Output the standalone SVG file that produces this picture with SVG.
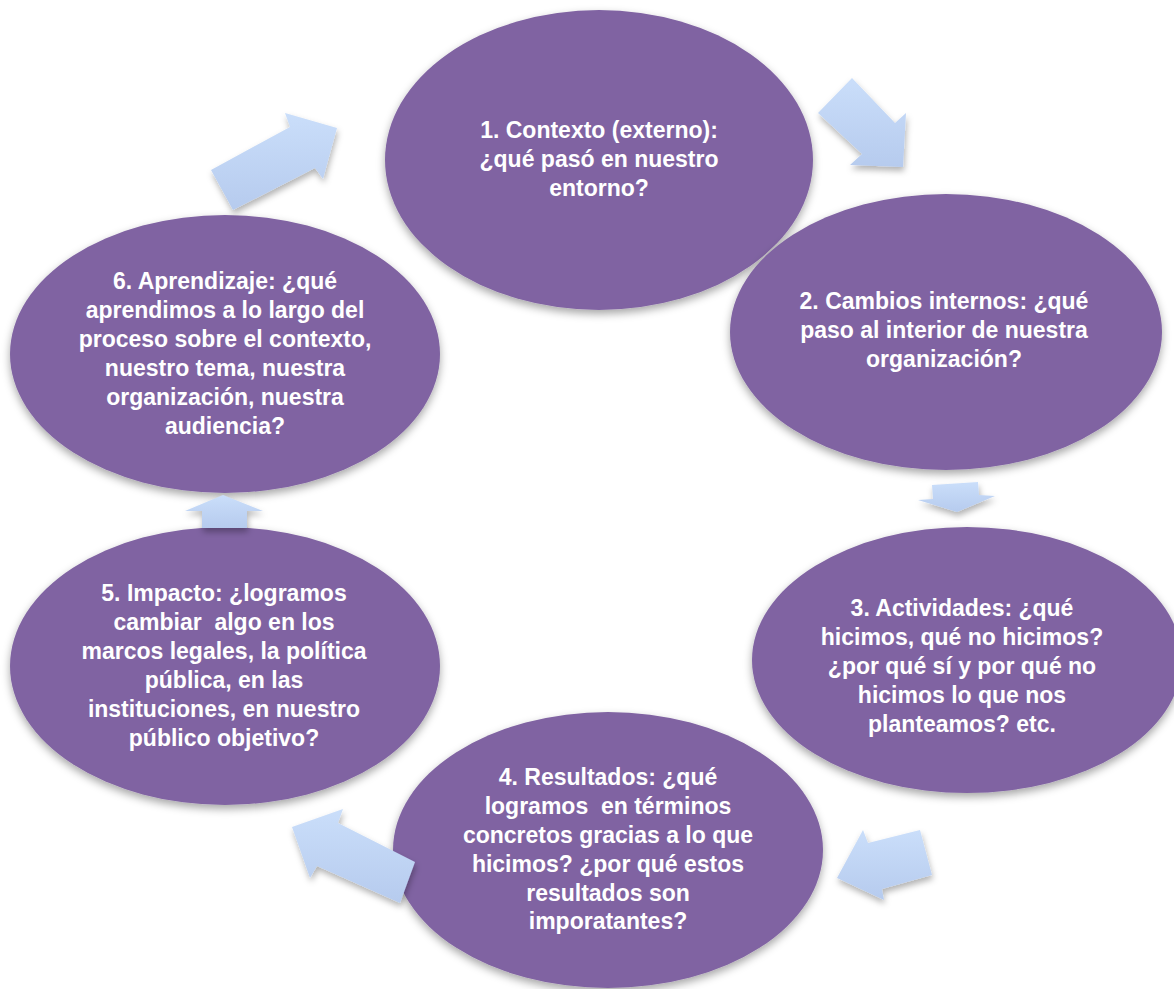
<svg xmlns="http://www.w3.org/2000/svg" width="1174" height="989" viewBox="0 0 1174 989">
  <defs>
    <filter id="sh" x="-10%" y="-10%" width="120%" height="125%">
      <feDropShadow dx="0" dy="4" stdDeviation="4" flood-color="#000" flood-opacity="0.35"/>
    </filter>
    <filter id="ash" x="-20%" y="-20%" width="140%" height="150%">
      <feDropShadow dx="1" dy="4" stdDeviation="3" flood-color="#000" flood-opacity="0.3"/>
    </filter>
    <linearGradient id="ag" x1="0" y1="0" x2="0" y2="1">
      <stop offset="0" stop-color="#cadefa"/>
      <stop offset="1" stop-color="#b6cbee"/>
    </linearGradient>
  </defs>
  <style>
    .node ellipse { fill: #8064a2; filter: url(#sh); }
    .node text { font-family: "Liberation Sans", Arial, sans-serif; font-weight: bold; font-size: 23px; fill: #ffffff; text-anchor: middle; white-space: pre; }
    .arrow { fill: url(#ag); filter: url(#ash); }
  </style>
  <rect width="1174" height="989" fill="#ffffff"/>

  <g id="node1" class="node">
    <ellipse cx="599" cy="160" rx="214" ry="150"/>
    <text x="599" y="138">1. Contexto (externo):</text>
    <text x="599" y="167">¿qué pasó en nuestro</text>
    <text x="599" y="196">entorno?</text>
  </g>
  <g id="node2" class="node">
    <ellipse cx="946" cy="332" rx="216" ry="138"/>
    <text x="944" y="309">2. Cambios internos: ¿qué</text>
    <text x="944" y="338">paso al interior de nuestra</text>
    <text x="944" y="367">organización?</text>
  </g>
  <g id="node3" class="node">
    <ellipse cx="967" cy="660" rx="215" ry="133"/>
    <text x="962" y="616">3. Actividades: ¿qué</text>
    <text x="962" y="645">hicimos, qué no hicimos?</text>
    <text x="962" y="674">¿por qué sí y por qué no</text>
    <text x="962" y="703">hicimos lo que nos</text>
    <text x="962" y="732">planteamos? etc.</text>
  </g>
  <g id="node4" class="node">
    <ellipse cx="608" cy="850" rx="215" ry="138"/>
    <text x="608" y="785">4. Resultados: ¿qué</text>
    <text x="608" y="814">logramos  en términos</text>
    <text x="608" y="843">concretos gracias a lo que</text>
    <text x="608" y="872">hicimos? ¿por qué estos</text>
    <text x="608" y="901">resultados son</text>
    <text x="608" y="929">imporatantes?</text>
  </g>
  <g id="node5" class="node">
    <ellipse cx="225" cy="666" rx="215" ry="139"/>
    <text x="224" y="601">5. Impacto: ¿logramos</text>
    <text x="224" y="630">cambiar  algo en los</text>
    <text x="224" y="659">marcos legales, la política</text>
    <text x="224" y="688">pública, en las</text>
    <text x="224" y="717">instituciones, en nuestro</text>
    <text x="224" y="746">público objetivo?</text>
  </g>
  <g id="node6" class="node">
    <ellipse cx="225" cy="354" rx="215" ry="139"/>
    <text x="225" y="289">6. Aprendizaje: ¿qué</text>
    <text x="225" y="318">aprendimos a lo largo del</text>
    <text x="225" y="347">proceso sobre el contexto,</text>
    <text x="225" y="376">nuestro tema, nuestra</text>
    <text x="225" y="405">organización, nuestra</text>
    <text x="225" y="434">audiencia?</text>
  </g>

  <g id="connectors">
    <polygon class="arrow" points="852,78 895,123 906,113 903,167 850,165 862,154 818,113"/>
    <polygon class="arrow" points="932,485 978,482 979,495 995,496 957,512 918,500 933,499"/>
    <polygon class="arrow" points="920,830 932,875 882,889 884,900 837,878 863,830 868,843"/>
    <polygon class="arrow" points="292,827 343,809 338,823 415,862 400,903 317,866 310,878"/>
    <polygon class="arrow" points="223,495 263,511 247,511 247,528 202,528 202,511 185,511"/>
    <polygon class="arrow" points="211,170 290,127 285,113 337,128 323,179 315,168 233,210"/>
  </g>
</svg>
